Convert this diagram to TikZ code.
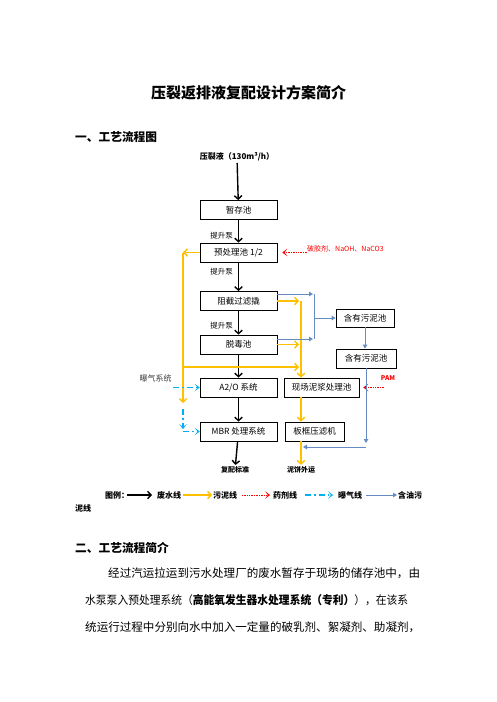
\documentclass[tikz,border=0pt]{standalone}
\usepackage{fontspec}
\setmainfont{Noto Sans CJK SC}
\usetikzlibrary{arrows.meta}

\definecolor{sludgeyellow}{RGB}{255,192,0}
\definecolor{aircyan}{RGB}{0,176,240}
\definecolor{oilblue}{RGB}{100,140,195}

\begin{document}
\begin{tikzpicture}[
    x=1pt, y=-1pt,
    pool/.style={draw=black, line width=0.8pt, minimum width=77pt, minimum height=19pt, inner sep=0pt, font=\fontsize{8.5}{10}\selectfont},
    note/.style={inner sep=0pt, font=\fontsize{7.5}{9}\selectfont},
    label bold/.style={inner sep=1.5pt, font=\fontsize{8}{10}\selectfont\bfseries},
    heading/.style={anchor=west, inner sep=0pt, font=\fontsize{11.7}{14}\selectfont\bfseries},
    body/.style={anchor=west, inner sep=0pt, font=\fontsize{11.55}{14}\selectfont},
    barb/.tip={Straight Barb[length=3.5pt, width=7.5pt]},
    chevron/.tip={Stealth[length=5pt, width=7.5pt, inset=3pt]},
    water/.style={-barb, line width=1.4pt, black},
    sludge/.style={-barb, line width=1.4pt, sludgeyellow},
    dose/.style={-chevron, line width=0.7pt, red, densely dotted},
    aeration/.style={-chevron, line width=1.3pt, aircyan, dash pattern=on 6pt off 3pt on 1.5pt off 3pt},
    oil/.style={-{Triangle[length=4pt, width=4.5pt]}, line width=1pt, oilblue},
    oil line/.style={line width=1pt, oilblue}
]
\useasboundingbox[fill=white] (0,0) rectangle (496,702);

% Title and section heading
\node[inner sep=0pt, font=\fontsize{15}{18}\selectfont\bfseries] (title) at (248.5,93) {压裂返排液复配设计方案简介};
\node[heading] (secA) at (75,137) {一、工艺流程图};

% Process boxes
\node[label bold] (feed) at (237,157) {压裂液（130m³/h）};
\node[pool] (tank) at (238.5,210) {暂存池};
\node[pool] (pre) at (238.5,252.5) {预处理池 1/2};
\node[pool] (filter) at (238.5,301) {阻截过滤撬};
\node[pool] (detox) at (238.5,344.5) {脱毒池};
\node[pool] (ao) at (238.5,387.5) {A2/O 系统};
\node[pool] (mbr) at (238.5,431.5) {MBR 处理系统};
\node[pool, minimum width=75pt] (slurry) at (321.5,387.5) {现场泥浆处理池};
\node[pool, minimum width=59pt] (press) at (314.5,431.5) {板框压滤机};
\node[pool, minimum width=58pt, minimum height=18pt] (oilA) at (365,318) {含有污泥池};
\node[pool, minimum width=60pt] (oilB) at (366,358.5) {含有污泥池};
\node[label bold, font=\fontsize{7}{9}\selectfont\bfseries] (reuse) at (235,470) {复配标准};
\node[label bold, font=\fontsize{7}{9}\selectfont\bfseries] (cake) at (301,470) {泥饼外运};

% Pump labels
\foreach \y/\n in {236/1, 272/2, 326/3} {
    \node[note, anchor=east] (pump-\n) at (233,\y) {提升泵};
}

% Dosing and aeration labels
\node[note, anchor=west, text=red, font=\fontsize{7}{9}\selectfont] (chem) at (307,249) {破胶剂、NaOH、NaCO3};
\node[note, text=red, font=\fontsize{6.5}{8}\selectfont\bfseries] (pam) at (388,378) {PAM};
\node[note, text=black!75, font=\fontsize{8}{10}\selectfont] (air) at (155.5,378) {曝气系统};

% Waste water line
\draw[water] (feed) -- (tank);
\foreach \a/\b in {tank/pre, pre/filter, filter/detox, detox/ao, ao/mbr} {
    \draw[water] (\a) -- (\b);
}
\draw[water] (mbr) -- (reuse);

% Sludge lines
\coordinate (ylt) at (183,252.5);
\coordinate (ylb) at (183,403);
\coordinate (ymid) at (183,367);
\coordinate (ytop) at (301,301);
\draw[sludge] (pre.west) -- (ylt);
\draw[sludge] (ylt) -- (ylb);
\draw[sludge] (ytop) -- (ytop |- slurry.north);
\draw[sludge] (filter.east) -- ([xshift=-2pt]filter.east -| ytop);
\draw[sludge] (detox.east) -- ([xshift=-2pt]detox.east -| ytop);
\draw[sludge] (ymid) -- ([xshift=-2pt]ymid -| ytop);
\draw[sludge] (slurry.south -| ytop) -- (press.north -| ytop);
\draw[sludge] (press.south -| ytop) -- (cake.north -| ytop);

% Dosing lines
\draw[dose] (chem.west |- pre.east) -- ([xshift=5pt]pre.east);
\coordinate (pamtail) at (384,387.5);
\draw[dose] (pamtail) -- ([xshift=4pt]slurry.east);

% Aeration lines
\coordinate (airtail) at (173,387.5);
\coordinate (airtop) at (183,409);
\coordinate (airbot) at (183,429);
\draw[aeration] (airtail) -- (ao.west);
\draw[aeration] (airtop) -- (airbot);
\draw[aeration] (airbot |- mbr.west) -- (mbr.west);

% Oily sludge lines
\coordinate (obusT) at (314,294);
\coordinate (obusB) at (314,339);
\coordinate (oilturn) at (366,447);
\draw[oil] ([yshift=7pt]filter.east) -- ([xshift=-1pt]obusT);
\draw[oil] ([yshift=5.5pt]detox.east) -- ([xshift=-1pt]obusB);
\draw[oil line] (obusT) -- (obusB);
\draw[oil] (obusT |- oilA.west) -- (oilA.west);
\draw[oil] (oilA.south) -- (oilA.south |- oilB.north);
\draw[oil] (oilB.south -| oilturn) -- ([yshift=4pt]oilturn);
\draw[oil] (oilturn) -- ([xshift=2pt]oilturn -| ytop);

% Legend
\node[label bold, anchor=west, inner sep=0pt] (lg-title) at (105,495) {图例：};
\foreach \s/\x/\e/\t/\n in {water/127/152/157/废水线, sludge/183/212/213/污泥线, dose/242/270/273/药剂线, aeration/305/333/338/曝气线, oil/366/397/398/含油污} {
    \coordinate (lg-\s-a) at (\x,495);
    \coordinate (lg-\s-b) at (\e,495);
    \draw[\s] (lg-\s-a) -- (lg-\s-b);
    \node[label bold, anchor=west, inner sep=0pt] (lg-\s-text) at (\t,495) {\n};
}
\node[label bold, anchor=west, inner sep=0pt] (lg-wrap) at (75,508) {泥线};

% Section two
\node[heading] (secB) at (75,548) {二、工艺流程简介};
\node[body] (para-1) at (108,573) {经过汽运拉运到污水处理厂的废水暂存于现场的储存池中，由};
\node[body] (para-2) at (85,600) {\resizebox{323pt}{\height}{水泵泵入预处理系统（\textbf{高能氧发生器水处理系统（专利）}），在该系}};
\node[body] (para-3) at (85,627) {统运行过程中分别向水中加入一定量的破乳剂、絮凝剂、助凝剂，};

\end{tikzpicture}
\end{document}
